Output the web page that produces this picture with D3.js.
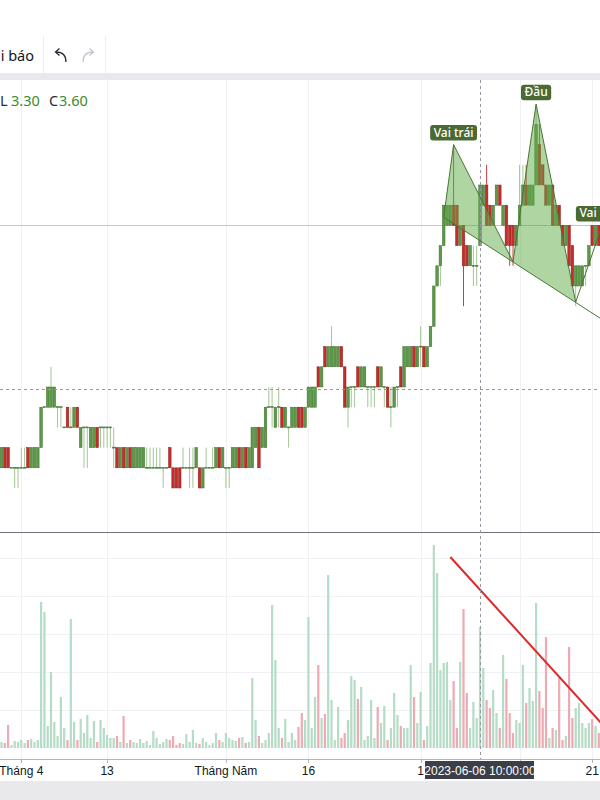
<!DOCTYPE html>
<html>
<head>
<meta charset="utf-8">
<script src="https://cdn.jsdelivr.net/npm/d3@7"></script>
<style>
html, body { margin: 0; padding: 0; background: #fff; overflow: hidden; }
svg { display: block; font-family: "Noto Sans", Roboto, sans-serif; }
</style>
</head>
<body>
<div class="chart"></div>
<script>
// hourly bars (price in thousand VND)
const open = [
  2.2,2.3,2.3,2.2,2.2,2.2,2.2,2.2,2.3,2.2,
  2.2,2.2,2.3,2.5,2.5,2.5,2.5,2.5,2.5,2.4,
  2.5,2.4,2.4,2.5,2.3,2.4,2.4,2.3,2.3,2.4,
  2.4,2.4,2.4,2.4,2.3,2.3,2.2,2.3,2.2,2.3,
  2.2,2.2,2.2,2.2,2.2,2.2,2.2,2.2,2.2,2.2,
  2.2,2.3,2.2,2.2,2.2,2.2,2.2,2.2,2.2,2.2,
  2.2,2.1,2.2,2.2,2.2,2.2,2.3,2.2,2.2,2.2,
  2.2,2.2,2.3,2.2,2.3,2.2,2.2,2.3,2.4,2.3,
  2.3,2.5,2.5,2.4,2.5,2.5,2.4,2.4,2.4,2.4,
  2.5,2.5,2.4,2.5,2.5,2.5,2.7,2.6,2.8,2.7,
  2.7,2.7,2.7,2.8,2.7,2.5,2.6,2.6,2.7,2.6,
  2.6,2.6,2.6,2.6,2.7,2.6,2.6,2.6,2.5,2.5,
  2.6,2.7,2.6,2.7,2.7,2.8,2.7,2.8,2.8,2.7,
  2.8,2.9,3.1,3.2,3.3,3.4,3.4,3.5,3.5,3.3,
  3.4,3.3,3.2,3.2,3.2,3.3,3.5,3.6,3.5,3.4,
  3.5,3.6,3.4,3.5,3.4,3.4,3.3,3.4,3.5,3.6,
  3.5,3.5,3.6,3.8,3.7,3.6,3.5,3.6,3.4,3.5,
  3.4,3.3,3.4,3.3,3.1,3.1,3.1,3.2,3.2,3.4,
  3.3,3.4
];
const high = [
  2.3,2.3,2.3,2.2,2.2,2.2,2.3,2.3,2.3,2.3,
  2.3,2.3,2.5,2.5,2.6,2.7,2.6,2.5,2.5,2.4,
  2.5,2.5,2.5,2.5,2.4,2.4,2.4,2.4,2.4,2.4,
  2.4,2.4,2.4,2.4,2.4,2.3,2.3,2.3,2.3,2.3,
  2.3,2.3,2.3,2.3,2.3,2.3,2.3,2.3,2.3,2.2,
  2.2,2.3,2.2,2.2,2.2,2.3,2.2,2.3,2.3,2.3,
  2.2,2.2,2.3,2.2,2.3,2.3,2.3,2.3,2.2,2.2,
  2.3,2.3,2.3,2.3,2.3,2.3,2.4,2.4,2.4,2.4,
  2.5,2.6,2.6,2.5,2.6,2.5,2.5,2.4,2.5,2.5,
  2.5,2.5,2.5,2.6,2.6,2.6,2.7,2.7,2.8,2.8,
  2.9,2.8,2.8,2.8,2.7,2.6,2.6,2.6,2.7,2.7,
  2.7,2.6,2.6,2.6,2.7,2.7,2.6,2.6,2.6,2.6,
  2.6,2.7,2.8,2.8,2.8,2.8,2.8,2.9,2.8,2.8,
  2.9,3.1,3.2,3.3,3.5,3.5,3.5,3.8,3.5,3.4,
  3.4,3.3,3.3,3.3,3.3,3.6,3.6,3.7,3.5,3.5,
  3.6,3.6,3.5,3.5,3.4,3.4,3.4,3.7,3.7,3.7,
  3.6,3.6,4.0,3.9,3.7,3.6,3.6,3.6,3.5,3.5,
  3.4,3.4,3.4,3.3,3.2,3.2,3.2,3.2,3.3,3.4,
  3.4,3.4
];
const low = [
  2.2,2.2,2.2,2.2,2.1,2.1,2.2,2.2,2.2,2.2,
  2.2,2.2,2.3,2.5,2.5,2.5,2.5,2.4,2.4,2.4,
  2.4,2.4,2.4,2.4,2.3,2.2,2.2,2.3,2.3,2.3,
  2.3,2.3,2.3,2.3,2.2,2.2,2.2,2.2,2.2,2.2,
  2.2,2.2,2.2,2.2,2.2,2.2,2.2,2.2,2.2,2.1,
  2.2,2.2,2.1,2.1,2.1,2.2,2.2,2.1,2.1,2.2,
  2.1,2.1,2.2,2.2,2.2,2.2,2.2,2.2,2.1,2.1,
  2.2,2.2,2.2,2.2,2.2,2.2,2.2,2.3,2.2,2.3,
  2.3,2.5,2.4,2.4,2.4,2.4,2.4,2.3,2.4,2.4,
  2.4,2.4,2.4,2.5,2.5,2.5,2.6,2.6,2.7,2.7,
  2.7,2.7,2.7,2.7,2.5,2.4,2.5,2.5,2.6,2.6,
  2.6,2.5,2.5,2.5,2.6,2.6,2.5,2.5,2.4,2.5,
  2.5,2.6,2.6,2.7,2.7,2.7,2.7,2.7,2.7,2.7,
  2.8,2.9,3.1,3.1,3.3,3.4,3.4,3.4,3.3,3.3,
  3.0,3.2,3.2,3.1,3.1,3.3,3.5,3.4,3.4,3.4,
  3.5,3.5,3.4,3.3,3.2,3.2,3.3,3.4,3.5,3.5,
  3.5,3.5,3.6,3.6,3.6,3.5,3.5,3.4,3.4,3.4,
  3.3,3.3,3.2,3.1,3.0,3.1,3.1,3.1,3.2,3.3,
  3.3,3.3
];
const close = [
  2.3,2.2,2.2,2.2,2.2,2.2,2.2,2.2,2.2,2.3,
  2.3,2.3,2.5,2.5,2.6,2.6,2.6,2.5,2.5,2.4,
  2.4,2.4,2.5,2.4,2.4,2.4,2.4,2.4,2.4,2.3,
  2.4,2.4,2.4,2.4,2.3,2.2,2.3,2.2,2.3,2.2,
  2.3,2.3,2.3,2.3,2.2,2.2,2.2,2.2,2.2,2.2,
  2.2,2.2,2.1,2.1,2.1,2.2,2.2,2.2,2.2,2.3,
  2.1,2.2,2.2,2.2,2.2,2.3,2.2,2.3,2.2,2.2,
  2.3,2.3,2.2,2.3,2.2,2.3,2.4,2.4,2.2,2.4,
  2.5,2.5,2.5,2.5,2.5,2.4,2.5,2.4,2.5,2.5,
  2.4,2.4,2.5,2.6,2.6,2.6,2.6,2.7,2.7,2.8,
  2.8,2.8,2.8,2.7,2.5,2.6,2.6,2.6,2.6,2.7,
  2.7,2.6,2.6,2.6,2.6,2.7,2.6,2.5,2.5,2.6,
  2.6,2.6,2.8,2.8,2.8,2.7,2.8,2.8,2.7,2.8,
  2.9,3.1,3.2,3.3,3.5,3.5,3.5,3.4,3.3,3.4,
  3.2,3.2,3.3,3.2,3.2,3.6,3.6,3.4,3.4,3.5,
  3.6,3.5,3.5,3.3,3.3,3.3,3.4,3.5,3.6,3.5,
  3.6,3.6,3.9,3.6,3.6,3.5,3.6,3.4,3.5,3.4,
  3.3,3.4,3.2,3.1,3.2,3.2,3.2,3.2,3.3,3.3,
  3.4,3.3
];
const volume = [
  30,25,115,15,35,30,40,25,40,45,
  30,40,730,680,110,380,130,60,255,100,
  40,645,130,40,145,75,165,50,135,30,
  140,100,65,50,50,60,30,160,25,40,
  30,25,45,25,35,15,85,50,20,30,
  45,40,60,15,25,20,70,30,90,25,
  20,50,30,15,25,75,40,30,75,50,
  40,35,50,55,25,30,350,140,60,25,
  40,75,715,440,100,50,145,30,75,40,
  105,175,140,655,100,255,415,150,170,865,
  240,40,205,50,75,140,360,340,245,305,
  40,60,240,50,205,125,210,40,100,275,
  165,110,100,100,415,255,125,280,40,110,
  425,1015,875,390,425,430,240,335,100,430,
  695,275,100,230,150,605,400,240,200,290,
  175,100,465,345,175,75,140,125,415,225,
  300,235,725,285,200,555,50,100,90,350,
  40,60,505,150,200,225,125,100,125,145,
  110,75
];

// time axis (labels under the crosshair date box are left blank)
const tickIdx = [6, 32, 68, 93, 127, 157, 179];
const tickLabels = ['Tháng 4', '13', 'Tháng Năm', '16', '1', '', '21'];
const crossIdx = 145;
const crossPrice = 2.59;
const crossLabel = '2023-06-06 10:00:00';
const priceLine = 3.4;

// head & shoulders drawing: [bar index, price]
const hsIdx = [134, 137, 155, 162, 174, 182, 190];
const hsPrice = [3.44, 3.8, 3.22, 4.0, 3.02, 3.4, 2.85];
const hsNames = [null, 'Vai trái', null, 'Đầu', null, 'Vai phải', null];

// volume trend line: [bar index, volume]
const trendIdx = [136, 182];
const trendVol = [955, 120];

const W = 600, H = 800;
const svg = d3.select('.chart').append('svg')
  .attr('width', W)
  .attr('height', H);

const x = d3.scaleLinear().domain([0, 181]).range([1.5, 598.8]);
const y = d3.scaleLinear().domain([2.1, 3.6]).range([488, 185]);
const yv = d3.scaleLinear().domain([0, 1100]).range([748, 528]);

const paneTop = 80, paneBot = 532, volBot = 759;

// toolbar
svg.append('rect').attr('x', 0).attr('y', 73).attr('width', W).attr('height', 7).attr('fill', '#e8e9ee');
svg.append('text').attr('x', 34).attr('y', 61).attr('text-anchor', 'end')
  .attr('font-size', 14.5).attr('fill', '#131722').text('hi báo');
[43.5, 105.5].forEach(sx => {
  svg.append('line').attr('x1', sx).attr('x2', sx).attr('y1', 36).attr('y2', 73)
    .attr('stroke', '#eceef2');
});
// undo / redo
svg.append('path').attr('d', 'M66 62 C66 55 63 52 56 52 M59.5 48.5 L55.5 52 L59.5 55.5')
  .attr('fill', 'none').attr('stroke', '#2a2e39').attr('stroke-width', 1.3);
svg.append('path').attr('d', 'M83 62 C83 55 86 52 93 52 M89.5 48.5 L93.5 52 L89.5 55.5')
  .attr('fill', 'none').attr('stroke', '#c3c6ce').attr('stroke-width', 1.3);

// clips
const defs = svg.append('defs');
defs.append('clipPath').attr('id', 'main').append('rect')
  .attr('x', 0).attr('y', paneTop).attr('width', W).attr('height', paneBot - paneTop);
defs.append('clipPath').attr('id', 'vol').append('rect')
  .attr('x', 0).attr('y', paneBot + 1).attr('width', W).attr('height', volBot - paneBot - 1);

// grid
const grid = svg.append('g');
grid.selectAll('line.v').data(tickIdx).enter().append('line')
  .attr('x1', d => Math.round(x(d)) + 0.5).attr('x2', d => Math.round(x(d)) + 0.5)
  .attr('y1', paneTop).attr('y2', volBot)
  .attr('stroke', '#f0f1f4');
grid.selectAll('line.h').data([190, 380, 570, 760, 950]).enter().append('line')
  .attr('x1', 0).attr('x2', W)
  .attr('y1', d => Math.round(yv(d)) + 0.5).attr('y2', d => Math.round(yv(d)) + 0.5)
  .attr('stroke', '#f0f1f4');

// price line
svg.append('line').attr('x1', 0).attr('x2', W)
  .attr('y1', Math.round(y(priceLine)) + 0.5).attr('y2', Math.round(y(priceLine)) + 0.5)
  .attr('stroke', '#9fd9cb');

const bars = d3.range(open.length);
const up = i => close[i] >= open[i];

// candles
const candles = svg.append('g').attr('clip-path', 'url(#main)');
candles.selectAll('line').data(bars).enter().append('line')
  .attr('x1', i => x(i)).attr('x2', i => x(i))
  .attr('y1', i => y(high[i])).attr('y2', i => y(low[i]))
  .attr('stroke', i => up(i) ? '#a4c596' : '#c74040')
  .attr('stroke-width', 1);
candles.selectAll('rect').data(bars).enter().append('rect')
  .attr('x', i => x(i) - 1.3)
  .attr('width', 2.6)
  .attr('y', i => y(Math.max(open[i], close[i])) - (open[i] === close[i] ? 0.5 : 0))
  .attr('height', i => Math.max(1, Math.abs(y(open[i]) - y(close[i]))))
  .attr('fill', i => up(i) ? '#5c9a47' : '#c62d2a')
  .attr('stroke', i => up(i) ? '#3f7030' : '#8f1f1c')
  .attr('stroke-width', 0.5);

// head & shoulders
const hsX = hsIdx.map(d => x(d));
const hsY = hsPrice.map(d => y(d));
const pt = k => [hsX[k], hsY[k]];
const hs = svg.append('g').attr('clip-path', 'url(#main)');
[[0, 1, 2], [2, 3, 4]].forEach(t => {
  hs.append('path').attr('d', d3.line()(t.map(pt)) + 'Z')
    .attr('fill', 'rgba(96,172,72,0.5)').attr('stroke', 'none');
});
hs.append('path').attr('d', d3.line()([0, 1, 2, 3, 4, 5].map(pt)))
  .attr('fill', 'none').attr('stroke', '#4b7434').attr('stroke-width', 1);
hs.append('path').attr('d', d3.line()([0, 6].map(pt)))
  .attr('fill', 'none').attr('stroke', '#4b7434').attr('stroke-width', 1);

hsNames.forEach((name, k) => {
  if (!name) return;
  const g = svg.append('g');
  const t = g.append('text').attr('x', hsX[k]).attr('y', hsY[k] - 8)
    .attr('text-anchor', 'middle').attr('font-size', 12).attr('font-weight', 500)
    .attr('fill', '#fff').text(name);
  const bb = t.node().getBBox();
  g.insert('rect', 'text')
    .attr('x', bb.x - 3.5).attr('y', hsY[k] - 19.5)
    .attr('width', bb.width + 7).attr('height', 15.5)
    .attr('rx', 3).attr('fill', '#4b6a33');
});

// legend
const leg = svg.append('g').attr('font-size', 14.5);
leg.append('text').attr('x', 0).attr('y', 106).attr('fill', '#2a2e39').text('L');
leg.append('text').attr('x', 11).attr('y', 106).attr('fill', '#3f8a2a').text(low[crossIdx].toFixed(2));
leg.append('text').attr('x', 49).attr('y', 106).attr('fill', '#2a2e39').text('C');
leg.append('text').attr('x', 59).attr('y', 106).attr('fill', '#3f8a2a').text(close[crossIdx].toFixed(2));

// pane separator
svg.append('line').attr('x1', 0).attr('x2', W).attr('y1', paneBot + 0.5).attr('y2', paneBot + 0.5)
  .attr('stroke', '#6f727c');

// volume
const vol = svg.append('g').attr('clip-path', 'url(#vol)');
vol.selectAll('rect').data(bars).enter().append('rect')
  .attr('x', i => x(i) - 1.1)
  .attr('width', 2.2)
  .attr('y', i => yv(volume[i]))
  .attr('height', i => yv(0) - yv(volume[i]))
  .attr('fill', i => up(i) ? '#b5dcc6' : '#eeaab2');
vol.append('line')
  .attr('x1', x(trendIdx[0])).attr('y1', yv(trendVol[0]))
  .attr('x2', x(trendIdx[1])).attr('y2', yv(trendVol[1]))
  .attr('stroke', '#dd2a2a').attr('stroke-width', 2);

// crosshair
svg.append('line').attr('x1', Math.round(x(crossIdx)) + 0.5).attr('x2', Math.round(x(crossIdx)) + 0.5)
  .attr('y1', paneTop).attr('y2', volBot)
  .attr('stroke', '#9598a1').attr('stroke-dasharray', '3,3');
svg.append('line').attr('x1', 0).attr('x2', W)
  .attr('y1', Math.round(y(crossPrice)) + 0.5).attr('y2', Math.round(y(crossPrice)) + 0.5)
  .attr('stroke', '#9598a1').attr('stroke-dasharray', '3,3');

// time axis
svg.append('line').attr('x1', 0).attr('x2', W).attr('y1', volBot + 0.5).attr('y2', volBot + 0.5)
  .attr('stroke', '#b2b5be');
const ax = svg.append('g').attr('font-family', '"Liberation Sans", Arial, sans-serif').attr('font-size', 12);
ax.selectAll('line').data(tickIdx).enter().append('line')
  .attr('x1', d => Math.round(x(d)) + 0.5).attr('x2', d => Math.round(x(d)) + 0.5)
  .attr('y1', volBot).attr('y2', volBot + 4)
  .attr('stroke', '#b2b5be');
ax.selectAll('text').data(tickIdx.filter((d, k) => tickLabels[k])).enter().append('text')
  .attr('x', d => x(d)).attr('y', 775).attr('text-anchor', 'middle')
  .attr('fill', '#131722').text(d => tickLabels[tickIdx.indexOf(d)]);

svg.append('rect').attr('x', 0).attr('y', 781).attr('width', W).attr('height', 19).attr('fill', '#e9e9ec');

const cx = x(crossIdx);
svg.append('rect').attr('x', cx - 55).attr('y', 761).attr('width', 109).attr('height', 18)
  .attr('fill', '#3b3f4a');
svg.append('text').attr('x', cx).attr('y', 774.5).attr('text-anchor', 'middle')
  .attr('font-family', '"Liberation Sans", Arial, sans-serif').attr('font-size', 12)
  .attr('fill', '#fff').text(crossLabel);
</script>
</body>
</html>
